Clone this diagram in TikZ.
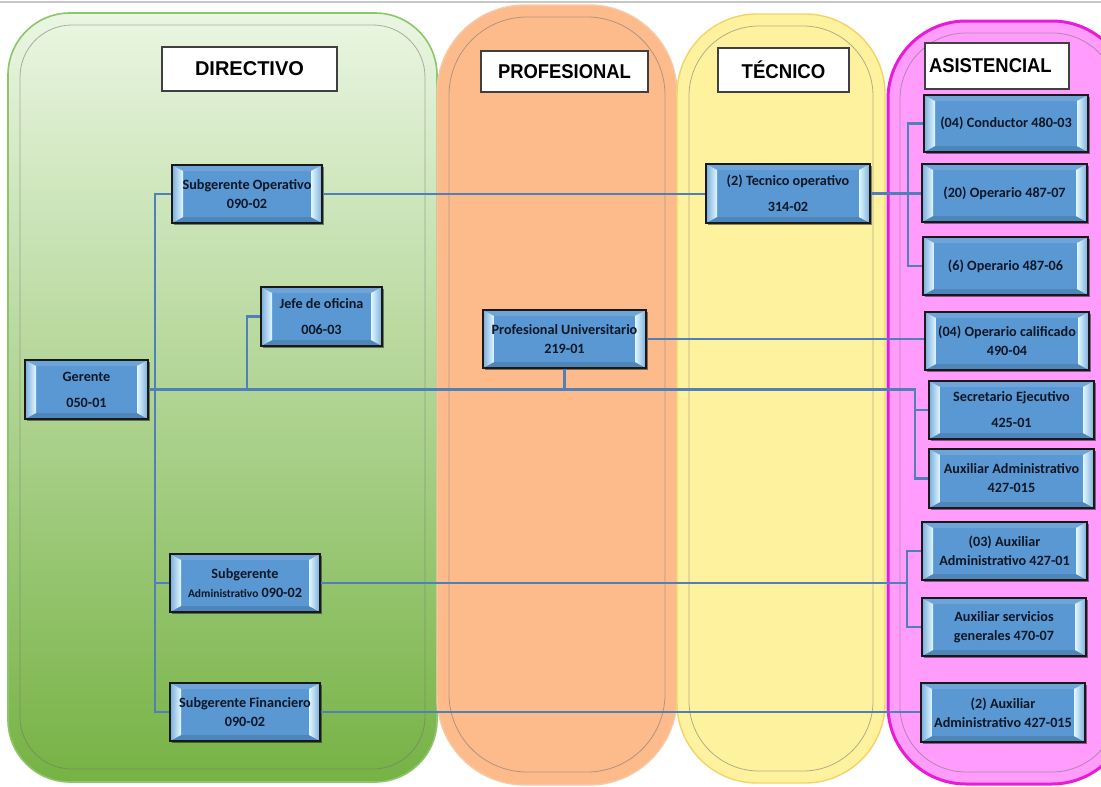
\documentclass[tikz,border=0pt]{standalone}
\usepackage{fontspec}
\setmainfont{Carlito}
\newfontfamily\hfont{Liberation Sans}
\usetikzlibrary{calc,shadows}
\definecolor{nodeblue}{HTML}{5A98D3}
\definecolor{bevhi}{HTML}{E2F8FF}
\definecolor{conn}{HTML}{4F80BA}
\definecolor{gA}{HTML}{EAF6E2}
\definecolor{gB}{HTML}{C1E0A7}
\definecolor{gC}{HTML}{76B244}
\definecolor{gbord}{HTML}{8CC66A}
\definecolor{orfill}{HTML}{FDBB8C}
\definecolor{orbord}{HTML}{F6C9A6}
\definecolor{yefill}{HTML}{FFF29E}
\definecolor{yebord}{HTML}{F2D466}
\definecolor{pkfill}{HTML}{FF9CFC}
\definecolor{pkbord}{HTML}{E81CD6}
\definecolor{txt}{HTML}{0E1726}
\begin{document}
\begin{tikzpicture}[x=1pt,y=-1pt,
  innerline/.style={draw=black!55, line width=0.8pt, opacity=0.55},
  hdr/.style={draw=black!75, line width=1.1pt, fill=white, inner sep=0pt, font=\hfont\bfseries\fontsize{20}{24}\selectfont,
    drop shadow={shadow xshift=1.2pt, shadow yshift=-1.2pt, opacity=0.35, fill=black}},
  box/.style={draw=black!90, line width=1.9pt, fill=nodeblue, inner sep=1pt, align=center, text=txt,
    drop shadow={shadow xshift=1.6pt, shadow yshift=-1.6pt, opacity=0.45, fill=black},
    path picture={
      \path (path picture bounding box.north west) coordinate (ppnw)
            (path picture bounding box.north east) coordinate (ppne)
            (path picture bounding box.south west) coordinate (ppsw)
            (path picture bounding box.south east) coordinate (ppse);
      \fill[nodeblue!88!white] (ppnw) -- (ppne) -- ($(ppne)+(-11,6)$) -- ($(ppnw)+(11,6)$) -- cycle;
      \fill[nodeblue!88!black] (ppsw) -- (ppse) -- ($(ppse)+(-11,-6)$) -- ($(ppsw)+(11,-6)$) -- cycle;
      \shade[left color=nodeblue!80!white, right color=bevhi] (ppnw) -- ($(ppnw)+(11,6)$) -- ($(ppsw)+(11,-6)$) -- (ppsw) -- cycle;
      \shade[left color=bevhi, right color=nodeblue!80!white] (ppne) -- ($(ppne)+(-11,6)$) -- ($(ppse)+(-11,-6)$) -- (ppse) -- cycle;
    }},
  tight/.style={box, font=\bfseries\fontsize{14.2}{19}\selectfont},
  loose/.style={box, font=\bfseries\fontsize{14.2}{26}\selectfont},
  wire/.style={draw=conn, line width=2.2pt},
  wirethick/.style={draw=conn, line width=3.6pt}
]
\useasboundingbox (0,0) rectangle (1101,787);
\fill[white] (0,0) rectangle (1101,787);
\draw[black!22, line width=1.5pt] (0,2) -- (1101,2);

% columns
\path[rounded corners=62, top color=gA, middle color=gB, bottom color=gC, draw=gbord, line width=1.6pt] (8,13) rectangle (437,782);
\path[rounded corners=52, innerline] (20,25) rectangle (425,769);
\path[rounded corners=88, fill=orfill, draw=orbord, line width=1.4pt] (437,5) rectangle (677,785);
\path[rounded corners=78, innerline] (449,17) rectangle (665,772);
\path[rounded corners=80, fill=yefill, draw=yebord, line width=1.4pt] (677,14) rectangle (885,783);
\path[rounded corners=70, innerline] (689,26) rectangle (873,771);
\path[rounded corners=78, fill=pkfill, draw=pkbord, line width=3pt] (888,21) rectangle (1130,784);
\path[rounded corners=66, innerline] (900,33) rectangle (1118,772);

% headers
\node[hdr, minimum width=175, minimum height=44] (hdir) at (249.5,69) {DIRECTIVO};
\node[hdr, minimum width=167, minimum height=41] (hprof) at (564.5,71.5) {\scalebox{0.92}[1]{PROFESIONAL}};
\node[hdr, minimum width=131, minimum height=44] (htec) at (783.5,70) {\scalebox{0.93}[1]{TÉCNICO}};
\node[hdr, minimum width=144, minimum height=46, text width=136, align=left] (hasis) at (997,66) {\scalebox{0.92}[1]{ASISTENCIAL}};

% nodes
\node[tight, minimum width=150, minimum height=58] (subop) at (247,194) {Subgerente Operativo\\090-02};
\node[loose, minimum width=121, minimum height=59] (jefe) at (321.5,316.5) {Jefe de oficina\\006-03};
\node[loose, minimum width=123, minimum height=59] (ger) at (86.5,389.5) {Gerente\\050-01};
\node[tight, minimum width=163, minimum height=58] (prof) at (564.5,339) {Profesional Universitario\\219-01};
\node[loose, minimum width=164, minimum height=59] (tec) at (788,193.5) {(2) Tecnico operativo\\314-02};
\node[tight, minimum width=164, minimum height=57] (cond) at (1006,123.5) {(04) Conductor 480-03};
\node[tight, minimum width=165, minimum height=58] (op7) at (1004.5,193) {(20) Operario 487-07};
\node[tight, minimum width=165, minimum height=58] (op6) at (1005.5,266) {(6) Operario 487-06};
\node[tight, minimum width=164, minimum height=58] (opc) at (1007,341) {(04) Operario calificado\\490-04};
\node[loose, minimum width=165, minimum height=58] (sec) at (1011.5,410) {Secretario Ejecutivo\\425-01};
\node[tight, minimum width=165, minimum height=59] (auxa) at (1011.5,478.5) {Auxiliar Administrativo\\427-015};
\node[tight, minimum width=165, minimum height=58] (aux3) at (1004.5,551) {(03) Auxiliar\\Administrativo 427-01};
\node[tight, minimum width=164, minimum height=58] (ausg) at (1004,627) {Auxiliar servicios\\generales 470-07};
\node[tight, minimum width=164, minimum height=59] (aux2) at (1003,712.5) {(2) Auxiliar\\Administrativo 427-015};
\node[tight, minimum width=150, minimum height=58] (subadm) at (245,583) {Subgerente\\{\fontsize{11.5}{13}\selectfont Administrativo} 090-02};
\node[tight, minimum width=150, minimum height=58] (subfin) at (245,712) {Subgerente Financiero\\090-02};

% junction coordinates
\coordinate (tx) at (155,0);
\coordinate (jx) at (247,0);
\coordinate (ax) at (915,0);
\coordinate (cx) at (908,0);
\coordinate (bx) at (907,0);

% connectors
\draw[wire] (subop.west) -- (subop.west -| tx) -- (subfin.west -| tx) -- (subfin.west);
\draw[wire] (subadm.west) -- (subadm.west -| tx);
\draw[wire] (ger.east) -- (ger.east -| ax) -- (auxa.west -| ax) -- (auxa.west);
\draw[wire] (sec.west) -- (sec.west -| ax);
\draw[wire] (jefe.west) -- (jefe.west -| jx) -- (ger.east -| jx);
\draw[wire] (prof.south) -- (prof.south |- ger.east);
\draw[wire] (subop.east) -- (subop.east -| tec.west);
\draw[wirethick] (tec.east) -- (tec.east -| op7.west);
\draw[wire] (cond.west) -- (cond.west -| cx) -- (op6.west -| cx) -- (op6.west);
\draw[wire] (prof.east) -- (prof.east -| opc.west);
\draw[wire] (subadm.east) -- (subadm.east -| bx);
\draw[wire] (aux3.west) -- (aux3.west -| bx) -- (ausg.west -| bx) -- (ausg.west);
\draw[wire] (subfin.east) -- (subfin.east -| aux2.west);
\end{tikzpicture}
\end{document}
